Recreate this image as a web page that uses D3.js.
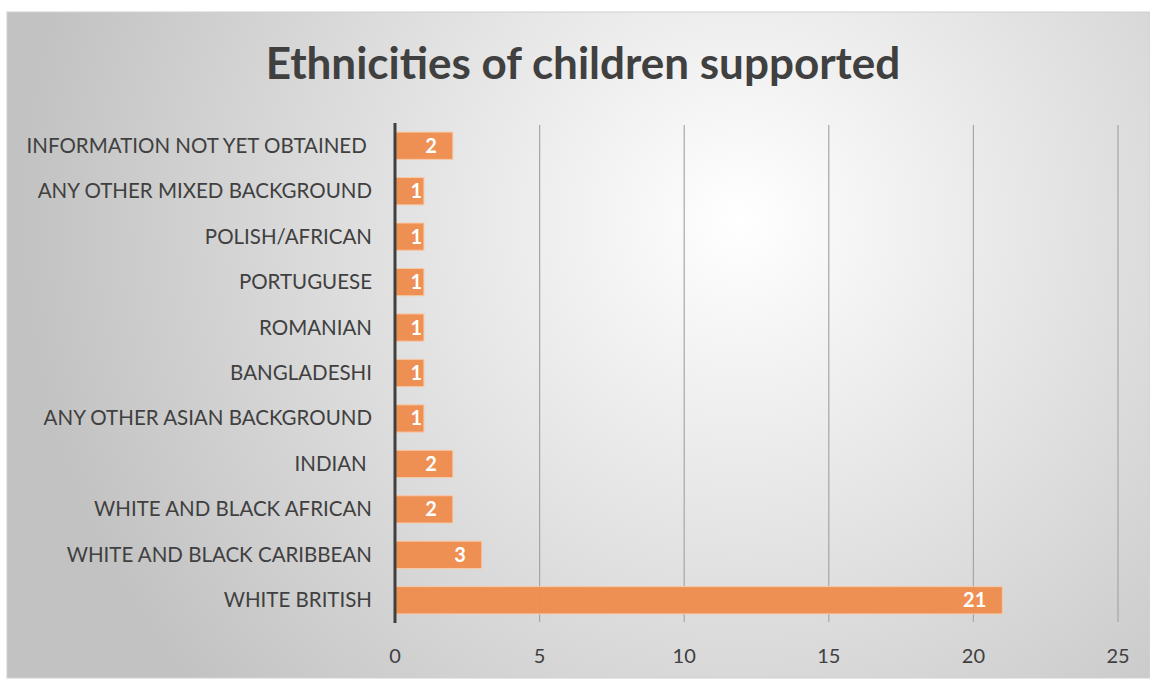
<!DOCTYPE html>
<html>
<head>
<meta charset="utf-8">
<script src="https://cdn.jsdelivr.net/npm/d3@7"></script>
<style>
  body { margin: 0; background: #fff; }
  #chart text { font-family: Lato, "Noto Sans", sans-serif; white-space: pre; }
</style>
</head>
<body>
<div id="chart"></div>
<script>
var categories = ["INFORMATION NOT YET OBTAINED ", "ANY OTHER MIXED BACKGROUND", "POLISH/AFRICAN",
  "PORTUGUESE", "ROMANIAN", "BANGLADESHI", "ANY OTHER ASIAN BACKGROUND", "INDIAN ",
  "WHITE AND BLACK AFRICAN", "WHITE AND BLACK CARIBBEAN", "WHITE BRITISH"]
var counts = [2, 1, 1, 1, 1, 1, 1, 2, 2, 3, 21]
var ticks = [0, 5, 10, 15, 20, 25]

var width = 1150, height = 679
const svg = d3.select("#chart").append("svg")
  .attr("width", width).attr("height", height)

var defs = svg.append("defs")
var grad = defs.append("radialGradient")
  .attr("id", "bg").attr("gradientUnits", "userSpaceOnUse")
  .attr("cx", 740).attr("cy", 220).attr("r", 720)
grad.append("stop").attr("offset", "0%").attr("stop-color", "#ffffff")
grad.append("stop").attr("offset", "100%").attr("stop-color", "#c2c2c2")

svg.append("rect")
  .attr("x", 7).attr("y", 12).attr("width", width - 7).attr("height", 666)
  .attr("fill", "url(#bg)")
  .attr("stroke", "#d0d0d0").attr("stroke-width", 1)

svg.append("text")
  .attr("x", 583).attr("y", 79)
  .attr("text-anchor", "middle")
  .style("font-size", "44px").style("font-weight", "bold")
  .attr("fill", "#404040")
  .text("Ethnicities of children supported")

var xScale = d3.scaleLinear().domain([0, 25]).range([395, 1118])
var yScale = d3.scaleBand().domain(categories).range([123, 623]).paddingInner(0.4).paddingOuter(0.2)

// gridlines
svg.append("g")
  .selectAll("line")
  .data(ticks.slice(1))
  .enter()
  .append("line")
  .attr("x1", d => xScale(d)).attr("x2", d => xScale(d))
  .attr("y1", 125).attr("y2", 622)
  .attr("stroke", "#a6a6a6").attr("stroke-width", 1.2)

// bars
svg.append("g")
  .selectAll("rect")
  .data(categories)
  .enter()
  .append("rect")
  .attr("x", xScale(0))
  .attr("y", d => yScale(d))
  .attr("width", (d, i) => xScale(counts[i]) - xScale(0))
  .attr("height", yScale.bandwidth())
  .attr("fill", "#ee8d4e")
  .attr("fill-opacity", 0.97)
  .attr("stroke", "#f7c9a8").attr("stroke-width", 1)

// value labels
svg.append("g")
  .selectAll("text")
  .data(categories)
  .enter()
  .append("text")
  .attr("x", (d, i) => Math.max(xScale(counts[i]) - 16, xScale(0) + 27))
  .attr("y", d => yScale(d) + yScale.bandwidth() / 2 + 7)
  .attr("text-anchor", "end")
  .style("font-size", "20px").style("font-weight", "bold")
  .attr("fill", "#ffffff")
  .text((d, i) => counts[i])

// category labels
svg.append("g")
  .selectAll("text")
  .data(categories)
  .enter()
  .append("text")
  .attr("x", 372)
  .attr("y", d => yScale(d) + yScale.bandwidth() / 2 + 7)
  .attr("text-anchor", "end")
  .style("font-size", "20.5px")
  .attr("fill", "#404040")
  .text(d => d)

// axis line
svg.append("line")
  .attr("x1", xScale(0)).attr("x2", xScale(0))
  .attr("y1", 123).attr("y2", 623)
  .attr("stroke", "#404040").attr("stroke-width", 3)

// tick labels
svg.append("g")
  .selectAll("text")
  .data(ticks)
  .enter()
  .append("text")
  .attr("x", d => xScale(d))
  .attr("y", 663)
  .attr("text-anchor", "middle")
  .style("font-size", "20px")
  .attr("fill", "#404040")
  .text(d => d)
</script>
</body>
</html>
